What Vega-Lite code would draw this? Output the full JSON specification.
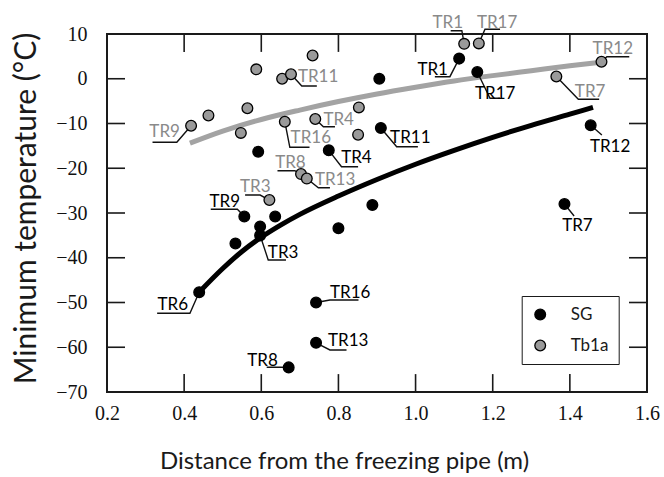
{
  "$schema": "https://vega.github.io/schema/vega-lite/v6.json",
  "width": 540,
  "height": 358,
  "autosize": {"type": "none"},
  "padding": {"left": 107, "top": 34, "right": 17, "bottom": 85},
  "background": "white",
  "config": {"view": {"stroke": "#1a1a1a", "strokeWidth": 2}, "font": "Lato"},
  "datasets": {
    "ticks": [
      {"id": "b04", "k": 0, "dist": 0.4, "tmin": -70}, {"id": "b04", "k": 1, "dist": 0.4, "tmin": -66},
      {"id": "b06", "k": 0, "dist": 0.6, "tmin": -70}, {"id": "b06", "k": 1, "dist": 0.6, "tmin": -66},
      {"id": "b08", "k": 0, "dist": 0.8, "tmin": -70}, {"id": "b08", "k": 1, "dist": 0.8, "tmin": -66},
      {"id": "b10", "k": 0, "dist": 1.0, "tmin": -70}, {"id": "b10", "k": 1, "dist": 1.0, "tmin": -66},
      {"id": "b12", "k": 0, "dist": 1.2, "tmin": -70}, {"id": "b12", "k": 1, "dist": 1.2, "tmin": -66},
      {"id": "b14", "k": 0, "dist": 1.4, "tmin": -70}, {"id": "b14", "k": 1, "dist": 1.4, "tmin": -66},
      {"id": "t04", "k": 0, "dist": 0.4, "tmin": 10}, {"id": "t04", "k": 1, "dist": 0.4, "tmin": 6},
      {"id": "t06", "k": 0, "dist": 0.6, "tmin": 10}, {"id": "t06", "k": 1, "dist": 0.6, "tmin": 6},
      {"id": "t08", "k": 0, "dist": 0.8, "tmin": 10}, {"id": "t08", "k": 1, "dist": 0.8, "tmin": 6},
      {"id": "t10", "k": 0, "dist": 1.0, "tmin": 10}, {"id": "t10", "k": 1, "dist": 1.0, "tmin": 6},
      {"id": "t12", "k": 0, "dist": 1.2, "tmin": 10}, {"id": "t12", "k": 1, "dist": 1.2, "tmin": 6},
      {"id": "t14", "k": 0, "dist": 1.4, "tmin": 10}, {"id": "t14", "k": 1, "dist": 1.4, "tmin": 6},
      {"id": "l60", "k": 0, "dist": 0.2, "tmin": -60}, {"id": "l60", "k": 1, "dist": 0.2467, "tmin": -60},
      {"id": "l50", "k": 0, "dist": 0.2, "tmin": -50}, {"id": "l50", "k": 1, "dist": 0.2467, "tmin": -50},
      {"id": "l40", "k": 0, "dist": 0.2, "tmin": -40}, {"id": "l40", "k": 1, "dist": 0.2467, "tmin": -40},
      {"id": "l30", "k": 0, "dist": 0.2, "tmin": -30}, {"id": "l30", "k": 1, "dist": 0.2467, "tmin": -30},
      {"id": "l20", "k": 0, "dist": 0.2, "tmin": -20}, {"id": "l20", "k": 1, "dist": 0.2467, "tmin": -20},
      {"id": "l10", "k": 0, "dist": 0.2, "tmin": -10}, {"id": "l10", "k": 1, "dist": 0.2467, "tmin": -10},
      {"id": "l00", "k": 0, "dist": 0.2, "tmin": 0}, {"id": "l00", "k": 1, "dist": 0.2467, "tmin": 0},
      {"id": "r60", "k": 0, "dist": 1.6, "tmin": -60}, {"id": "r60", "k": 1, "dist": 1.5533, "tmin": -60},
      {"id": "r50", "k": 0, "dist": 1.6, "tmin": -50}, {"id": "r50", "k": 1, "dist": 1.5533, "tmin": -50},
      {"id": "r40", "k": 0, "dist": 1.6, "tmin": -40}, {"id": "r40", "k": 1, "dist": 1.5533, "tmin": -40},
      {"id": "r30", "k": 0, "dist": 1.6, "tmin": -30}, {"id": "r30", "k": 1, "dist": 1.5533, "tmin": -30},
      {"id": "r20", "k": 0, "dist": 1.6, "tmin": -20}, {"id": "r20", "k": 1, "dist": 1.5533, "tmin": -20},
      {"id": "r10", "k": 0, "dist": 1.6, "tmin": -10}, {"id": "r10", "k": 1, "dist": 1.5533, "tmin": -10},
      {"id": "r00", "k": 0, "dist": 1.6, "tmin": 0}, {"id": "r00", "k": 1, "dist": 1.5533, "tmin": 0}
    ],
    "points": [
      {"series": "SG", "label": "TR1", "dist": 1.113, "tmin": 4.5},
      {"series": "SG", "label": "TR17", "dist": 1.160, "tmin": 1.5},
      {"series": "SG", "label": "TR12", "dist": 1.454, "tmin": -10.4},
      {"series": "SG", "label": "TR7", "dist": 1.386, "tmin": -28.0},
      {"series": "SG", "label": "", "dist": 0.906, "tmin": 0.0},
      {"series": "SG", "label": "TR11", "dist": 0.910, "tmin": -11.0},
      {"series": "SG", "label": "TR4", "dist": 0.775, "tmin": -16.0},
      {"series": "SG", "label": "", "dist": 0.592, "tmin": -16.3},
      {"series": "SG", "label": "TR9", "dist": 0.556, "tmin": -30.8},
      {"series": "SG", "label": "", "dist": 0.636, "tmin": -30.8},
      {"series": "SG", "label": "", "dist": 0.597, "tmin": -33.0},
      {"series": "SG", "label": "TR3", "dist": 0.597, "tmin": -35.0},
      {"series": "SG", "label": "", "dist": 0.533, "tmin": -36.8},
      {"series": "SG", "label": "", "dist": 0.800, "tmin": -33.4},
      {"series": "SG", "label": "", "dist": 0.888, "tmin": -28.2},
      {"series": "SG", "label": "TR6", "dist": 0.439, "tmin": -47.7},
      {"series": "SG", "label": "TR16", "dist": 0.742, "tmin": -50.0},
      {"series": "SG", "label": "TR13", "dist": 0.742, "tmin": -59.0},
      {"series": "SG", "label": "TR8", "dist": 0.671, "tmin": -64.5},
      {"series": "Tb1a", "label": "TR1", "dist": 1.126, "tmin": 7.8},
      {"series": "Tb1a", "label": "TR17", "dist": 1.164, "tmin": 7.9},
      {"series": "Tb1a", "label": "TR12", "dist": 1.482, "tmin": 3.8},
      {"series": "Tb1a", "label": "TR7", "dist": 1.365, "tmin": 0.5},
      {"series": "Tb1a", "label": "", "dist": 0.733, "tmin": 5.2},
      {"series": "Tb1a", "label": "", "dist": 0.587, "tmin": 2.1},
      {"series": "Tb1a", "label": "", "dist": 0.654, "tmin": 0.0},
      {"series": "Tb1a", "label": "TR11", "dist": 0.677, "tmin": 1.0},
      {"series": "Tb1a", "label": "", "dist": 0.853, "tmin": -6.4},
      {"series": "Tb1a", "label": "", "dist": 0.564, "tmin": -6.6},
      {"series": "Tb1a", "label": "", "dist": 0.463, "tmin": -8.2},
      {"series": "Tb1a", "label": "TR9", "dist": 0.418, "tmin": -10.5},
      {"series": "Tb1a", "label": "", "dist": 0.547, "tmin": -12.1},
      {"series": "Tb1a", "label": "TR16", "dist": 0.661, "tmin": -9.6},
      {"series": "Tb1a", "label": "TR4", "dist": 0.740, "tmin": -9.0},
      {"series": "Tb1a", "label": "", "dist": 0.851, "tmin": -12.5},
      {"series": "Tb1a", "label": "TR8", "dist": 0.703, "tmin": -21.3},
      {"series": "Tb1a", "label": "TR13", "dist": 0.718, "tmin": -22.3},
      {"series": "Tb1a", "label": "TR3", "dist": 0.621, "tmin": -27.1}
    ],
    "curves": [
      {"series": "SG", "dist": 0.44, "tmin": -47.6},
      {"series": "SG", "dist": 0.50, "tmin": -42.4},
      {"series": "SG", "dist": 0.55, "tmin": -38.6},
      {"series": "SG", "dist": 0.60, "tmin": -35.4},
      {"series": "SG", "dist": 0.65, "tmin": -32.7},
      {"series": "SG", "dist": 0.70, "tmin": -30.3},
      {"series": "SG", "dist": 0.80, "tmin": -26.2},
      {"series": "SG", "dist": 0.90, "tmin": -22.5},
      {"series": "SG", "dist": 1.00, "tmin": -19.1},
      {"series": "SG", "dist": 1.10, "tmin": -16.0},
      {"series": "SG", "dist": 1.20, "tmin": -13.1},
      {"series": "SG", "dist": 1.30, "tmin": -10.4},
      {"series": "SG", "dist": 1.40, "tmin": -7.9},
      {"series": "SG", "dist": 1.46, "tmin": -6.4},
      {"series": "Tb1a", "dist": 0.415, "tmin": -14.4},
      {"series": "Tb1a", "dist": 0.50, "tmin": -11.7},
      {"series": "Tb1a", "dist": 0.60, "tmin": -9.1},
      {"series": "Tb1a", "dist": 0.70, "tmin": -7.0},
      {"series": "Tb1a", "dist": 0.80, "tmin": -5.1},
      {"series": "Tb1a", "dist": 0.90, "tmin": -3.4},
      {"series": "Tb1a", "dist": 1.00, "tmin": -1.9},
      {"series": "Tb1a", "dist": 1.10, "tmin": -0.5},
      {"series": "Tb1a", "dist": 1.20, "tmin": 0.7},
      {"series": "Tb1a", "dist": 1.30, "tmin": 1.8},
      {"series": "Tb1a", "dist": 1.40, "tmin": 2.9},
      {"series": "Tb1a", "dist": 1.48, "tmin": 3.7}
    ],
    "leaders": [
      {"id": "g1", "k": 0, "dist": 1.126, "tmin": 7.8}, {"id": "g1", "k": 1, "dist": 1.120, "tmin": 10.74}, {"id": "g1", "k": 2, "dist": 1.091, "tmin": 10.74},
      {"id": "g17", "k": 0, "dist": 1.164, "tmin": 7.9}, {"id": "g17", "k": 1, "dist": 1.180, "tmin": 11.05}, {"id": "g17", "k": 2, "dist": 1.219, "tmin": 11.05},
      {"id": "g12", "k": 0, "dist": 1.482, "tmin": 3.8}, {"id": "g12", "k": 1, "dist": 1.496, "tmin": 4.93}, {"id": "g12", "k": 2, "dist": 1.554, "tmin": 4.93},
      {"id": "g7", "k": 0, "dist": 1.365, "tmin": 0.5}, {"id": "g7", "k": 1, "dist": 1.422, "tmin": -4.59}, {"id": "g7", "k": 2, "dist": 1.476, "tmin": -4.59},
      {"id": "g11", "k": 0, "dist": 0.677, "tmin": 1.0}, {"id": "g11", "k": 1, "dist": 0.705, "tmin": -1.62}, {"id": "g11", "k": 2, "dist": 0.744, "tmin": -1.62},
      {"id": "g9", "k": 0, "dist": 0.418, "tmin": -10.5}, {"id": "g9", "k": 1, "dist": 0.381, "tmin": -14.2}, {"id": "g9", "k": 2, "dist": 0.318, "tmin": -14.2},
      {"id": "g16", "k": 0, "dist": 0.661, "tmin": -9.6}, {"id": "g16", "k": 1, "dist": 0.674, "tmin": -15.32}, {"id": "g16", "k": 2, "dist": 0.725, "tmin": -15.32},
      {"id": "g4", "k": 0, "dist": 0.740, "tmin": -9.0}, {"id": "g4", "k": 1, "dist": 0.761, "tmin": -10.71}, {"id": "g4", "k": 2, "dist": 0.791, "tmin": -10.71},
      {"id": "g8", "k": 0, "dist": 0.703, "tmin": -21.3}, {"id": "g8", "k": 1, "dist": 0.687, "tmin": -20.55}, {"id": "g8", "k": 2, "dist": 0.642, "tmin": -20.55},
      {"id": "g13", "k": 0, "dist": 0.718, "tmin": -22.3}, {"id": "g13", "k": 1, "dist": 0.748, "tmin": -24.35}, {"id": "g13", "k": 2, "dist": 0.778, "tmin": -24.35},
      {"id": "g3", "k": 0, "dist": 0.621, "tmin": -27.1}, {"id": "g3", "k": 1, "dist": 0.597, "tmin": -25.98}, {"id": "g3", "k": 2, "dist": 0.558, "tmin": -25.98},
      {"id": "b1", "k": 0, "dist": 1.113, "tmin": 4.5}, {"id": "b1", "k": 1, "dist": 1.089, "tmin": 0.46}, {"id": "b1", "k": 2, "dist": 1.050, "tmin": 0.46},
      {"id": "b17", "k": 0, "dist": 1.160, "tmin": 1.5}, {"id": "b17", "k": 1, "dist": 1.193, "tmin": -4.37}, {"id": "b17", "k": 2, "dist": 1.219, "tmin": -4.37},
      {"id": "b12", "k": 0, "dist": 1.454, "tmin": -10.4}, {"id": "b12", "k": 1, "dist": 1.483, "tmin": -12.57},
      {"id": "b7", "k": 0, "dist": 1.386, "tmin": -28.0}, {"id": "b7", "k": 1, "dist": 1.411, "tmin": -30.67},
      {"id": "b11", "k": 0, "dist": 0.910, "tmin": -11.0}, {"id": "b11", "k": 1, "dist": 0.951, "tmin": -15.18}, {"id": "b11", "k": 2, "dist": 1.006, "tmin": -15.18},
      {"id": "b4", "k": 0, "dist": 0.775, "tmin": -16.0}, {"id": "b4", "k": 1, "dist": 0.808, "tmin": -19.65}, {"id": "b4", "k": 2, "dist": 0.851, "tmin": -19.65},
      {"id": "b9", "k": 0, "dist": 0.556, "tmin": -30.8}, {"id": "b9", "k": 1, "dist": 0.538, "tmin": -29.17}, {"id": "b9", "k": 2, "dist": 0.469, "tmin": -29.17},
      {"id": "b3", "k": 0, "dist": 0.597, "tmin": -35.0}, {"id": "b3", "k": 1, "dist": 0.618, "tmin": -40.5}, {"id": "b3", "k": 2, "dist": 0.664, "tmin": -40.5},
      {"id": "b6", "k": 0, "dist": 0.439, "tmin": -47.7}, {"id": "b6", "k": 1, "dist": 0.415, "tmin": -52.41}, {"id": "b6", "k": 2, "dist": 0.330, "tmin": -52.41},
      {"id": "b16", "k": 0, "dist": 0.742, "tmin": -50.0}, {"id": "b16", "k": 1, "dist": 0.778, "tmin": -49.44}, {"id": "b16", "k": 2, "dist": 0.852, "tmin": -49.44},
      {"id": "b13", "k": 0, "dist": 0.742, "tmin": -59.0}, {"id": "b13", "k": 1, "dist": 0.778, "tmin": -60.61}, {"id": "b13", "k": 2, "dist": 0.821, "tmin": -60.61},
      {"id": "b8", "k": 0, "dist": 0.671, "tmin": -64.5}, {"id": "b8", "k": 1, "dist": 0.649, "tmin": -64.48}, {"id": "b8", "k": 2, "dist": 0.614, "tmin": -64.48}
    ],
    "labels": [
      {"series": "Tb1a", "label": "TR1", "side": "right", "dist": 1.123, "tmin": 11.34},
      {"series": "Tb1a", "label": "TR17", "side": "left", "dist": 1.159, "tmin": 11.34},
      {"series": "Tb1a", "label": "TR12", "side": "left", "dist": 1.459, "tmin": 5.42},
      {"series": "Tb1a", "label": "TR7", "side": "left", "dist": 1.413, "tmin": -4.08},
      {"series": "Tb1a", "label": "TR11", "side": "left", "dist": 0.695, "tmin": -0.73},
      {"series": "Tb1a", "label": "TR9", "side": "right", "dist": 0.389, "tmin": -13.0},
      {"series": "Tb1a", "label": "TR16", "side": "left", "dist": 0.676, "tmin": -14.36},
      {"series": "Tb1a", "label": "TR4", "side": "left", "dist": 0.761, "tmin": -10.34},
      {"series": "Tb1a", "label": "TR8", "side": "left", "dist": 0.636, "tmin": -19.94},
      {"series": "Tb1a", "label": "TR13", "side": "left", "dist": 0.739, "tmin": -23.74},
      {"series": "Tb1a", "label": "TR3", "side": "left", "dist": 0.545, "tmin": -25.2},
      {"series": "SG", "label": "TR1", "side": "right", "dist": 1.084, "tmin": 0.84},
      {"series": "SG", "label": "TR17", "side": "left", "dist": 1.154, "tmin": -4.53},
      {"series": "SG", "label": "TR12", "side": "left", "dist": 1.452, "tmin": -16.37},
      {"series": "SG", "label": "TR7", "side": "left", "dist": 1.380, "tmin": -34.02},
      {"series": "SG", "label": "TR11", "side": "left", "dist": 0.934, "tmin": -14.36},
      {"series": "SG", "label": "TR4", "side": "left", "dist": 0.807, "tmin": -18.83},
      {"series": "SG", "label": "TR9", "side": "right", "dist": 0.545, "tmin": -28.66},
      {"series": "SG", "label": "TR3", "side": "left", "dist": 0.617, "tmin": -40.06},
      {"series": "SG", "label": "TR6", "side": "right", "dist": 0.410, "tmin": -51.68},
      {"series": "SG", "label": "TR16", "side": "left", "dist": 0.778, "tmin": -49.0},
      {"series": "SG", "label": "TR13", "side": "left", "dist": 0.773, "tmin": -59.72},
      {"series": "SG", "label": "TR8", "side": "right", "dist": 0.643, "tmin": -64.19}
    ]
  },
  "layer": [
    {
      "data": {"name": "curves"},
      "mark": {"type": "line", "strokeWidth": 5, "interpolate": "monotone", "clip": false},
      "encoding": {
        "x": {"field": "dist", "type": "quantitative",
          "scale": {"domain": [0.2, 1.6], "nice": false, "zero": false},
          "axis": {"orient": "bottom", "values": [0.2, 0.4, 0.6, 0.8, 1.0, 1.2, 1.4, 1.6], "format": ".1f",
            "labelFont": "Liberation Serif", "labelFontSize": 20, "labelColor": "#111", "labelFlush": false, "labelOverlap": false,
            "labelPadding": 11, "ticks": false, "domain": false, "grid": false,
            "title": "Distance from the freezing pipe (m)", "titleFont": "Lato", "titleFontSize": 24, "titleFontWeight": "normal",
            "titleColor": "#1a1a1a", "titleX": 237, "titleY": 76, "titleBaseline": "alphabetic", "titleAlign": "center", "titleAnchor": null}},
        "y": {"field": "tmin", "type": "quantitative",
          "scale": {"domain": [-70, 10], "nice": false, "zero": false},
          "axis": {"orient": "left", "values": [-70, -60, -50, -40, -30, -20, -10, 0, 10],
            "labelFont": "Liberation Serif", "labelFontSize": 20, "labelColor": "#111", "labelFlush": false, "labelOverlap": false,
            "labelPadding": 20, "ticks": false, "domain": false, "grid": false,
            "title": "Minimum temperature (°C)", "titleFont": "Lato", "titleFontSize": 30, "titleFontWeight": "normal",
            "titleColor": "#1a1a1a", "titleX": -72, "titleY": 174, "titleAngle": -90, "titleBaseline": "alphabetic", "titleAlign": "center", "titleAnchor": null}},
        "detail": {"field": "series", "type": "nominal"},
        "color": {"condition": {"test": "datum.series === 'SG'", "value": "#000000"}, "value": "#a3a3a3"}
      }
    },
    {
      "data": {"name": "ticks"},
      "mark": {"type": "line", "strokeWidth": 1.6, "color": "#1a1a1a", "clip": false},
      "encoding": {
        "x": {"field": "dist", "type": "quantitative", "axis": null},
        "y": {"field": "tmin", "type": "quantitative", "axis": null},
        "detail": {"field": "id", "type": "nominal"},
        "order": {"field": "k", "type": "quantitative"}
      }
    },
    {
      "data": {"name": "leaders"},
      "mark": {"type": "line", "strokeWidth": 1.4, "color": "#111", "clip": false},
      "encoding": {
        "x": {"field": "dist", "type": "quantitative", "axis": null},
        "y": {"field": "tmin", "type": "quantitative", "axis": null},
        "detail": {"field": "id", "type": "nominal"},
        "order": {"field": "k", "type": "quantitative"}
      }
    },
    {
      "data": {"name": "points"},
      "mark": {"type": "point", "shape": "circle", "filled": true, "size": 115, "stroke": "#000", "strokeWidth": 1.3, "opacity": 1, "clip": false},
      "encoding": {
        "x": {"field": "dist", "type": "quantitative", "axis": null},
        "y": {"field": "tmin", "type": "quantitative", "axis": null},
        "fill": {"field": "series", "type": "nominal",
          "scale": {"domain": ["SG", "Tb1a"], "range": ["#000000", "#9a9a9a"]},
          "legend": {"orient": "none", "legendX": 414.7, "legendY": 262, "title": null, "strokeColor": "#1a1a1a",
            "padding": 10, "labelFont": "Lato", "labelFontSize": 17, "labelColor": "#1a1a1a", "labelOffset": 22, "rowPadding": 13,
            "symbolSize": 115, "symbolType": "circle", "symbolStrokeColor": "#000", "symbolStrokeWidth": 1.3, "fillColor": "white"}}
      }
    },
    {
      "data": {"name": "labels"},
      "transform": [{"filter": "datum.side === 'left'"}],
      "mark": {"type": "text", "align": "left", "baseline": "alphabetic", "font": "Lato", "fontSize": 17, "clip": false},
      "encoding": {
        "x": {"field": "dist", "type": "quantitative", "axis": null},
        "y": {"field": "tmin", "type": "quantitative", "axis": null},
        "text": {"field": "label"},
        "color": {"condition": {"test": "datum.series === 'SG'", "value": "#000000"}, "value": "#8a8a8a"}
      }
    },
    {
      "data": {"name": "labels"},
      "transform": [{"filter": "datum.side === 'right'"}],
      "mark": {"type": "text", "align": "right", "baseline": "alphabetic", "font": "Lato", "fontSize": 17, "clip": false},
      "encoding": {
        "x": {"field": "dist", "type": "quantitative", "axis": null},
        "y": {"field": "tmin", "type": "quantitative", "axis": null},
        "text": {"field": "label"},
        "color": {"condition": {"test": "datum.series === 'SG'", "value": "#000000"}, "value": "#8a8a8a"}
      }
    }
  ],
  "resolve": {"axis": {"x": "independent", "y": "independent"}}
}
